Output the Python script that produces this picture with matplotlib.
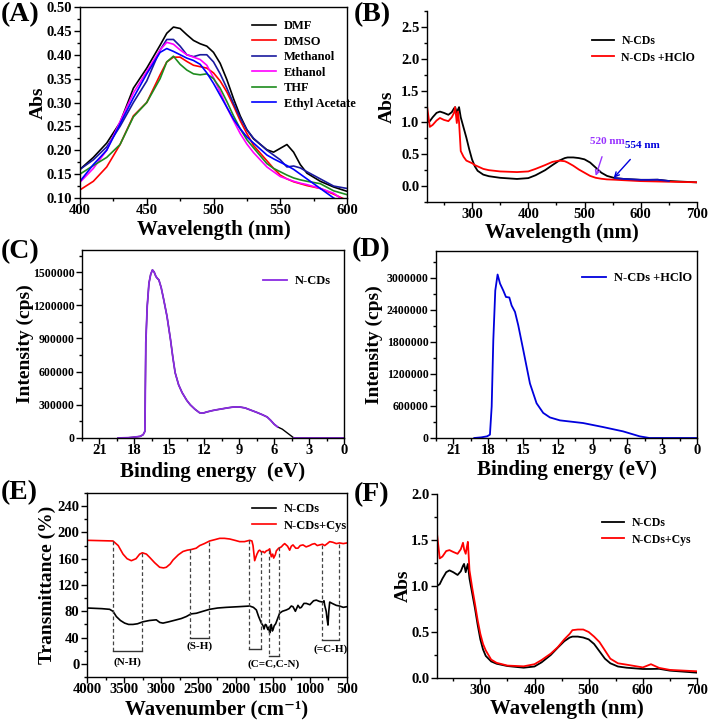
import numpy as np
import matplotlib
matplotlib.use("Agg")
import matplotlib.pyplot as plt
from matplotlib.ticker import MultipleLocator, FormatStrFormatter

plt.rcParams['font.family'] = ['Liberation Serif', 'DejaVu Serif']
plt.rcParams['font.weight'] = 'bold'
plt.rcParams['axes.labelweight'] = 'bold'
plt.rcParams['axes.linewidth'] = 1.0

# ---------------- (A) solvents ----------------
wl_a = [400, 410, 420, 430, 440, 450, 460, 465, 470, 475, 480, 485, 490, 495, 500, 505, 510,
        515, 520, 525, 530, 540, 545, 550, 555, 560, 565, 570, 580, 590, 600]
dmf = [0.160, 0.185, 0.215, 0.258, 0.330, 0.372, 0.420, 0.445, 0.458, 0.455, 0.442, 0.430,
       0.423, 0.418, 0.405, 0.382, 0.348, 0.308, 0.272, 0.243, 0.224, 0.201, 0.196, 0.204,
       0.212, 0.196, 0.170, 0.152, 0.135, 0.123, 0.114]
dmso = [0.117, 0.135, 0.165, 0.212, 0.272, 0.300, 0.358, 0.385, 0.395, 0.395, 0.386, 0.378,
        0.375, 0.372, 0.362, 0.345, 0.322, 0.293, 0.262, 0.235, 0.210, 0.178, 0.162, 0.148,
        0.140, 0.134, 0.130, 0.126, 0.120, 0.108, 0.095]
methanol = [0.160, 0.180, 0.207, 0.250, 0.300, 0.345, 0.410, 0.432, 0.432, 0.418, 0.400, 0.396,
            0.400, 0.400, 0.385, 0.360, 0.330, 0.298, 0.268, 0.243, 0.225, 0.200, 0.190, 0.180,
            0.165, 0.167, 0.163, 0.155, 0.140, 0.125, 0.120]
ethanol = [0.133, 0.162, 0.200, 0.260, 0.320, 0.365, 0.410, 0.426, 0.422, 0.410, 0.400, 0.395,
           0.390, 0.378, 0.352, 0.322, 0.290, 0.262, 0.235, 0.213, 0.195, 0.165, 0.155, 0.145,
           0.140, 0.135, 0.131, 0.128, 0.120, 0.110, 0.090]
thf = [0.150, 0.168, 0.185, 0.212, 0.270, 0.300, 0.350, 0.385, 0.397, 0.380, 0.368, 0.360,
       0.358, 0.360, 0.350, 0.330, 0.302, 0.272, 0.245, 0.222, 0.205, 0.172, 0.162, 0.155,
       0.148, 0.142, 0.138, 0.135, 0.130, 0.115, 0.107]
ethyl_acetate = [0.135, 0.170, 0.200, 0.255, 0.310, 0.360, 0.405, 0.413, 0.407, 0.400, 0.393, 0.388,
                 0.380, 0.362, 0.340, 0.315, 0.290, 0.265, 0.245, 0.228, 0.215, 0.190, 0.182, 0.175,
                 0.168, 0.160, 0.150, 0.140, 0.120, 0.100, 0.085]
solvent_names = ['DMF', 'DMSO', 'Methanol', 'Ethanol', 'THF', 'Ethyl Acetate']
solvent_colors = ['#000000', '#ff0000', '#1a1a9e', '#ff00ff', '#1e8c1e', '#0000ff']

# ---------------- (B)/(F) UV-vis ----------------
wl_uv = [220, 225, 230, 237, 243, 250, 258, 264, 268, 270, 273, 275, 277, 280, 285, 290, 295,
         300, 305, 310, 320, 330, 350, 380, 400, 413, 430, 443, 455, 465, 470, 480, 490, 500,
         510, 520, 530, 540, 554, 570, 600, 615, 630, 650, 700]
ncds = [1.00, 1.02, 1.08, 1.15, 1.17, 1.15, 1.12, 1.16, 1.22, 1.24, 1.15, 1.20, 1.24, 1.08,
        0.92, 0.76, 0.58, 0.42, 0.31, 0.24, 0.18, 0.155, 0.13, 0.112, 0.125, 0.17, 0.25, 0.33,
        0.40, 0.44, 0.45, 0.45, 0.44, 0.42, 0.37, 0.29, 0.21, 0.16, 0.125, 0.112, 0.098, 0.098,
        0.100, 0.080, 0.058]
ncds_hclo = [1.26, 0.93, 0.96, 1.03, 1.07, 1.04, 1.02, 1.08, 1.15, 1.24, 0.99, 1.17, 1.00,
             0.55, 0.46, 0.40, 0.38, 0.36, 0.33, 0.31, 0.27, 0.25, 0.23, 0.22, 0.23, 0.27,
             0.33, 0.38, 0.40, 0.39, 0.37, 0.32, 0.26, 0.21, 0.16, 0.13, 0.115, 0.105, 0.100,
             0.092, 0.078, 0.075, 0.072, 0.068, 0.060]
ncds_cys = [1.57, 1.30, 1.32, 1.38, 1.39, 1.37, 1.35, 1.40, 1.47, 1.40, 1.35, 1.42, 1.48, 1.17,
            0.98, 0.81, 0.63, 0.48, 0.37, 0.30, 0.20, 0.165, 0.135, 0.127, 0.150, 0.195, 0.265,
            0.335, 0.42, 0.48, 0.52, 0.527, 0.527, 0.50, 0.45, 0.39, 0.30, 0.21, 0.16, 0.145,
            0.115, 0.150, 0.110, 0.088, 0.073]

# ---------------- (C)/(D) UPS ----------------
ev_c = [19.4, 18.5, 18.0, 17.5, 17.25, 17.1, 17.02, 16.9, 16.75, 16.6, 16.45, 16.3, 16.15,
        16.0, 15.9, 15.7, 15.5, 15.2, 14.9, 14.7, 14.5, 14.2, 13.9, 13.5, 13.2, 12.8, 12.4,
        12.1, 11.8, 11.3, 10.9, 10.4, 9.9, 9.5, 9.0, 8.5, 8.0, 7.5, 7.0, 6.6, 6.3, 6.0, 5.7,
        5.3, 4.8, 4.3, 3.0, 0.0]
int_c = [0, 3000, 8000, 15000, 30000, 60000, 860000, 1190000, 1400000, 1480000, 1520000,
         1500000, 1460000, 1440000, 1430000, 1360000, 1260000, 1100000, 890000, 730000, 590000,
         480000, 410000, 340000, 300000, 260000, 228000, 225000, 235000, 248000, 256000, 265000,
         274000, 280000, 281000, 272000, 252000, 232000, 210000, 190000, 160000, 125000, 100000,
         80000, 40000, 0, 0, 0]
ev_d = [19.2, 18.6, 18.1, 17.85, 17.7, 17.56, 17.39, 17.19, 16.98, 16.7, 16.47, 16.18, 15.98,
        15.69, 15.41, 14.98, 14.4, 13.83, 13.26, 12.68, 11.82, 9.82, 8.1, 6.37, 4.94, 4.1, 0.0]
int_d = [0, 12000, 31000, 62000, 590000, 1830000, 2760000, 3060000, 2890000, 2760000,
         2640000, 2630000, 2480000, 2360000, 2110000, 1650000, 1020000, 650000, 470000,
         385000, 330000, 280000, 205000, 124000, 31000, 0, 0]

# ---------------- (E) FT-IR ----------------
wn_red = [4000, 3650, 3580, 3515, 3460, 3403, 3340, 3291, 3255, 3200, 3156, 3090, 3022, 2970,
          2932, 2880, 2842, 2770, 2708, 2650, 2596, 2530, 2483, 2420, 2349, 2280, 2214, 2150,
          2079, 2010, 1945, 1880, 1810, 1780, 1765, 1743, 1725, 1712, 1690, 1676, 1650, 1631,
          1610, 1586, 1560, 1541, 1519, 1500, 1487, 1465, 1451, 1420, 1384, 1360, 1339, 1300,
          1272, 1250, 1227, 1190, 1160, 1130, 1092, 1050, 1003, 970, 935, 900, 868, 830, 800,
          765, 733, 690, 644, 600, 550, 500]
tr_red = [188, 187, 180, 167, 160, 157, 160, 167, 169, 167, 162, 154, 147, 146, 147, 152, 158,
          166, 171, 173, 174, 176, 180, 183, 187, 189, 191, 191, 190, 188, 186, 186, 188, 187,
          180, 157, 163, 167, 172, 173, 170, 171, 169, 172, 173, 175, 163, 167, 161, 166, 172,
          176, 178, 181, 183, 179, 173, 179, 181, 176, 176, 180, 181, 178, 180, 182, 183, 180,
          181, 182, 180, 183, 186, 185, 183, 184, 183, 184]
wn_blk = [4000, 3800, 3695, 3650, 3605, 3550, 3493, 3440, 3381, 3320, 3247, 3160, 3067, 3020,
          2977, 2900, 2797, 2730, 2663, 2600, 2528, 2440, 2349, 2240, 2124, 1960, 1810, 1760,
          1720, 1690, 1653, 1630, 1617, 1600, 1586, 1575, 1564, 1550, 1541, 1530, 1519, 1505,
          1496, 1480, 1460, 1430, 1407, 1370, 1317, 1280, 1250, 1227, 1195, 1160, 1135, 1115,
          1080, 1048, 1000, 950, 913, 870, 823, 810, 800, 780, 770, 756, 745, 733, 700, 644,
          600, 550, 500]
tr_blk = [85, 84, 83, 80, 72, 66, 62, 60, 60, 61, 64, 66, 67, 63, 62, 64, 67, 69, 72, 76, 77,
          80, 83, 85, 86, 87, 88, 86, 82, 72, 62, 58, 53, 60, 59, 55, 52, 56, 47, 55, 60, 50,
          52, 58, 61, 70, 77, 80, 82, 84, 88, 87, 80, 89, 85, 86, 92, 92, 90, 96, 97, 95, 94,
          96, 89, 80, 70, 59, 80, 94, 92, 89, 88, 86, 87]
band_left = [3650, 2609, 1819, 1551, 842]
band_right = [3265, 2362, 1662, 1416, 610]
band_top_left = [187, 175, 188, 173, 181]
band_top_right = [168, 186, 172, 178, 183]
band_bottom = [19, 39, 23, 12, 37]
band_labels = ['(N-H)', '(S-H)', '', '(C=C,C-N)', '(=C-H)']
band_label_y = [3, 27, 0, 0, 22]

W, H = 709, 720
fig = plt.figure(figsize=(W / 100, H / 100), dpi=100)


def px_axes(l, t, r, b):
    return fig.add_axes([l / W, 1 - b / H, (r - l) / W, (b - t) / H])


def style(ax, box=True, ylab_x=None, xlab_y=None, xlab_va='center'):
    ax.tick_params(which='both', direction='out', labelsize=10.5, width=1.0)
    ax.tick_params(axis='x', pad=0.5)
    ax.tick_params(axis='y', pad=1.5)
    ax.tick_params(which='major', length=4)
    ax.tick_params(which='minor', length=2)
    if box:
        ax.tick_params(which='both', top=False, right=False)
    else:
        ax.spines['top'].set_visible(False)
        ax.spines['right'].set_visible(False)
    for lab in ax.get_xticklabels() + ax.get_yticklabels():
        lab.set_fontweight('bold')
    # put the axis titles where the reference has them (pixels from the spine)
    bb = ax.get_position()
    ax.yaxis.set_label_coords(-ylab_x / (bb.width * W), 0.5)
    ax.yaxis.label.set_va('center')
    ax.xaxis.set_label_coords(0.5, -xlab_y / (bb.height * H))
    ax.xaxis.label.set_va(xlab_va)


def legend(ax, x, y, size=9, spacing=0.3):
    ax.legend(loc='upper left', bbox_to_anchor=(x / W, 1 - y / H), bbox_transform=fig.transFigure,
              frameon=False, borderpad=0, handlelength=1.9, handletextpad=0.6,
              labelspacing=spacing, prop={'weight': 'bold', 'size': size})


def panel(label, x, y):
    fig.text(x / W, 1 - y / H, label, fontsize=20, fontweight='bold', va='center', ha='left')


# (A)
ax = px_axes(80, 7, 347, 198)
for ys, name, col in zip([dmf, dmso, methanol, ethanol, thf, ethyl_acetate], solvent_names, solvent_colors):
    ax.plot(wl_a, ys, color=col, lw=1.2, label=name)
ax.set_xlim(400, 600)
ax.set_ylim(0.10, 0.50)
ax.xaxis.set_major_locator(MultipleLocator(50))
ax.xaxis.set_minor_locator(MultipleLocator(25))
ax.yaxis.set_major_locator(MultipleLocator(0.05))
ax.yaxis.set_minor_locator(MultipleLocator(0.025))
ax.yaxis.set_major_formatter(FormatStrFormatter('%.2f'))
ax.set_xlabel('Wavelength (nm)', fontsize=15)
ax.set_ylabel('Abs', fontsize=14)
style(ax, ylab_x=42, xlab_y=32)
legend(ax, 246, 14, size=9, spacing=0.28)
panel('(A)', 1, 15)

# (B)
ax = px_axes(427, 11, 697, 202)
ax.plot(wl_uv, ncds, color='black', lw=1.3, label='N-CDs')
ax.plot(wl_uv, ncds_hclo, color='#ff0000', lw=1.3, label='N-CDs +HClO')
tail = [v if 554 <= w <= 650 else np.nan for w, v in zip(wl_uv, ncds)]
ax.plot(wl_uv, tail, color='#1010c0', lw=1.3)
ax.annotate('520 nm', xy=(520, 0.16), xytext=(540, 0.70), color='#9933ff', fontsize=8,
            fontweight='bold', ha='center', va='center',
            arrowprops=dict(arrowstyle='->', color='#9933ff', lw=1.0, shrinkA=6, shrinkB=0))
ax.annotate('554 nm', xy=(552, 0.13), xytext=(603, 0.63), color='#0000dd', fontsize=8,
            fontweight='bold', ha='center', va='center',
            arrowprops=dict(arrowstyle='->', color='#0000dd', lw=1.0, shrinkA=6, shrinkB=0))
ax.set_xlim(220, 700)
ax.set_ylim(-0.25, 2.75)
ax.xaxis.set_major_locator(MultipleLocator(100))
ax.xaxis.set_minor_locator(MultipleLocator(50))
ax.yaxis.set_major_locator(MultipleLocator(0.5))
ax.yaxis.set_minor_locator(MultipleLocator(0.25))
ax.yaxis.set_major_formatter(FormatStrFormatter('%.1f'))
ax.set_xlabel('Wavelength (nm)', fontsize=15)
ax.set_ylabel('Abs', fontsize=14)
style(ax, box=False, ylab_x=40, xlab_y=31)
legend(ax, 586, 29, size=8.5, spacing=0.4)
panel('(B)', 354, 15)

# (C)
ax = px_axes(82, 250, 344, 438)
ev = np.array(ev_c)
ic = np.array(int_c, dtype=float)
show = (ev >= 17.1) | ((ev <= 17.02) & (ev >= 5.7)) | (ev <= 4.3)
ax.plot(ev, ic, color='black', lw=1.0)
ax.plot(ev, np.where(show, ic, np.nan), color='#8a2be2', lw=1.3, label='N-CDs')
ax.set_xlim(22.5, 0)
ax.set_ylim(0, 1.7e6)
ax.xaxis.set_major_locator(MultipleLocator(3))
ax.xaxis.set_minor_locator(MultipleLocator(1.5))
ax.yaxis.set_major_locator(MultipleLocator(300000))
ax.yaxis.set_minor_locator(MultipleLocator(150000))
ax.ticklabel_format(axis='y', style='plain', useOffset=False)
ax.set_xlabel('Binding energy  (eV)', fontsize=15)
ax.set_ylabel('Intensity (cps)', fontsize=14)
style(ax, ylab_x=57, xlab_y=34)
for lab in ax.get_yticklabels():
    lab.set_fontsize(8.5)
legend(ax, 257, 269, size=9)
panel('(C)', 1, 252)

# (D)
ax = px_axes(436, 251, 697, 438)
ax.plot(ev_d, int_d, color='#0000dd', lw=1.3, label='N-CDs +HClO')
ax.set_xlim(22.5, 0)
ax.set_ylim(0, 3.5e6)
ax.xaxis.set_major_locator(MultipleLocator(3))
ax.xaxis.set_minor_locator(MultipleLocator(1.5))
ax.yaxis.set_major_locator(MultipleLocator(600000))
ax.yaxis.set_minor_locator(MultipleLocator(300000))
ax.ticklabel_format(axis='y', style='plain', useOffset=False)
ax.set_xlabel('Binding energy (eV)', fontsize=15)
ax.set_ylabel('Intensity (cps)', fontsize=14)
style(ax, ylab_x=62, xlab_y=32)
for lab in ax.get_yticklabels():
    lab.set_fontsize(8.5)
legend(ax, 576, 266, size=9)
panel('(D)', 352, 250)

# (E)
ax = px_axes(87, 493, 347, 677)
ax.plot(wn_blk, tr_blk, color='black', lw=1.2, label='N-CDs')
ax.plot(wn_red, tr_red, color='#ff0000', lw=1.2, label='N-CDs+Cys')
for xl, xr, tl, tr, yb, lab, ly in zip(band_left, band_right, band_top_left, band_top_right,
                                       band_bottom, band_labels, band_label_y):
    ax.plot([xl, xl], [tl, yb], color='#444444', lw=0.9, ls=(0, (3, 2)))
    ax.plot([xr, xr], [tr, yb], color='#444444', lw=0.9, ls=(0, (3, 2)))
    ax.plot([xl, xr], [yb, yb], color='#333333', lw=1.0)
    if lab:
        ax.text((xl + xr) / 2, ly, lab, fontsize=8, fontweight='bold', ha='center', va='center')
ax.set_xlim(4000, 500)
ax.set_ylim(-20, 260)
ax.xaxis.set_major_locator(MultipleLocator(500))
ax.xaxis.set_minor_locator(MultipleLocator(250))
ax.yaxis.set_major_locator(MultipleLocator(40))
ax.yaxis.set_minor_locator(MultipleLocator(20))
ax.set_xlabel('Wavenumber (cm\u207b\u00b9)', fontsize=15)
ax.set_ylabel('Transmittance (%)', fontsize=14)
# bottom of this title sits on the lower edge of the figure
style(ax, ylab_x=40, xlab_y=42, xlab_va='bottom')
legend(ax, 246, 497, size=9, spacing=0.35)
panel('(E)', 1, 493)

# (F)
ax = px_axes(437, 494, 697, 678)
ax.plot(wl_uv, ncds, color='black', lw=1.3, label='N-CDs')
ax.plot(wl_uv, ncds_cys, color='#ff0000', lw=1.3, label='N-CDs+Cys')
ax.set_xlim(220, 700)
ax.set_ylim(0, 2.0)
ax.xaxis.set_major_locator(MultipleLocator(100))
ax.xaxis.set_minor_locator(MultipleLocator(50))
ax.yaxis.set_major_locator(MultipleLocator(0.5))
ax.yaxis.set_minor_locator(MultipleLocator(0.25))
ax.yaxis.set_major_formatter(FormatStrFormatter('%.1f'))
ax.set_xlabel('Wavelength (nm)', fontsize=15)
ax.set_ylabel('Abs', fontsize=14)
style(ax, box=False, ylab_x=34, xlab_y=31)
legend(ax, 596, 511, size=8.5, spacing=0.4)
panel('(F)', 354, 495)

fig.savefig('out.png', dpi=100)
